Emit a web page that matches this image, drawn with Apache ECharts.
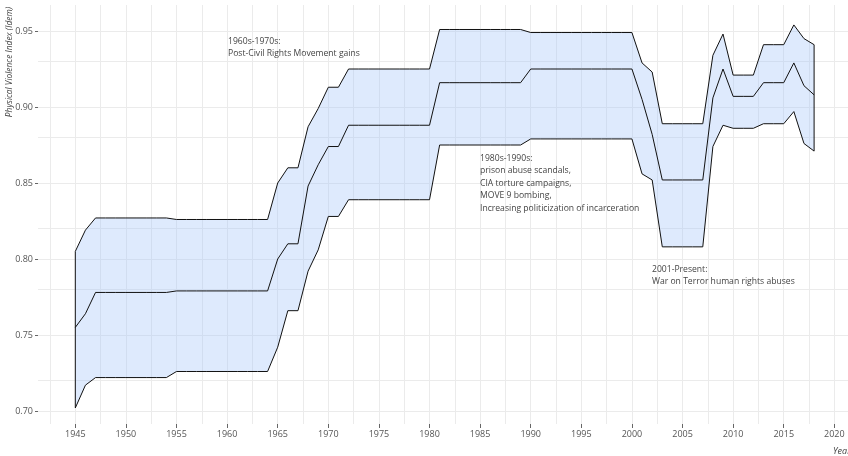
<!DOCTYPE html>
<html><head><meta charset="utf-8">
<script src="https://cdn.jsdelivr.net/npm/echarts@6/dist/echarts.min.js"></script>
<style>html,body{margin:0;padding:0;background:#fff}#c{width:848px;height:456px}</style>
</head><body><div id="c"></div>
<script>
const years = [1945,1946,1947,1948,1949,1950,1951,1952,1953,1954,1955,1956,1957,1958,1959,1960,1961,1962,1963,1964,
  1965,1966,1967,1968,1969,1970,1971,1972,1973,1974,1975,1976,1977,1978,1979,1980,1981,1982,1983,1984,1985,1986,1987,1988,1989,
  1990,1991,1992,1993,1994,1995,1996,1997,1998,1999,2000,2001,2002,2003,2004,2005,2006,2007,2008,2009,2010,2011,2012,2013,2014,2015,2016,2017,2018];
const upper = [0.805,0.819,0.827,0.827,0.827,0.827,0.827,0.827,0.827,0.827,0.826,0.826,0.826,0.826,0.826,0.826,0.826,0.826,0.826,0.826,
  0.850,0.860,0.860,0.887,0.899,0.913,0.913,0.925,0.925,0.925,0.925,0.925,0.925,0.925,0.925,0.925,0.951,0.951,0.951,0.951,0.951,0.951,0.951,0.951,0.951,
  0.949,0.949,0.949,0.949,0.949,0.949,0.949,0.949,0.949,0.949,0.949,0.929,0.923,0.889,0.889,0.889,0.889,0.889,0.934,0.948,0.921,0.921,0.921,0.941,0.941,0.941,0.954,0.945,0.941];
const middle = [0.755,0.764,0.778,0.778,0.778,0.778,0.778,0.778,0.778,0.778,0.779,0.779,0.779,0.779,0.779,0.779,0.779,0.779,0.779,0.779,
  0.800,0.810,0.810,0.848,0.862,0.874,0.874,0.888,0.888,0.888,0.888,0.888,0.888,0.888,0.888,0.888,0.916,0.916,0.916,0.916,0.916,0.916,0.916,0.916,0.916,
  0.925,0.925,0.925,0.925,0.925,0.925,0.925,0.925,0.925,0.925,0.925,0.905,0.882,0.852,0.852,0.852,0.852,0.852,0.906,0.925,0.907,0.907,0.907,0.916,0.916,0.916,0.929,0.914,0.908];
const lower = [0.702,0.717,0.722,0.722,0.722,0.722,0.722,0.722,0.722,0.722,0.726,0.726,0.726,0.726,0.726,0.726,0.726,0.726,0.726,0.726,
  0.742,0.766,0.766,0.792,0.806,0.828,0.828,0.839,0.839,0.839,0.839,0.839,0.839,0.839,0.839,0.839,0.875,0.875,0.875,0.875,0.875,0.875,0.875,0.875,0.875,
  0.879,0.879,0.879,0.879,0.879,0.879,0.879,0.879,0.879,0.879,0.879,0.856,0.852,0.808,0.808,0.808,0.808,0.808,0.874,0.888,0.886,0.886,0.886,0.889,0.889,0.889,0.897,0.876,0.871];
const xTickValues = [1945,1950,1955,1960,1965,1970,1975,1980,1985,1990,1995,2000,2005,2010,2015,2020];
const yTickValues = [0.70,0.75,0.80,0.85,0.90,0.95];
const xGridValues = [1942.5,1945,1947.5,1950,1952.5,1955,1957.5,1960,1962.5,1965,1967.5,1970,1972.5,1975,1977.5,1980,1982.5,1985,1987.5,1990,1992.5,1995,1997.5,2000,2002.5,2005,2007.5,2010,2012.5,2015,2017.5,2020];
const yGridValues = [0.70,0.725,0.75,0.775,0.80,0.825,0.85,0.875,0.90,0.925,0.95];
const annoTexts = [
  '1960s-1970s:\nPost-Civil Rights Movement gains',
  '1980s-1990s:\nprison abuse scandals,\nCIA torture campaigns,\nMOVE 9 bombing,\nIncreasing politicization of incarceration',
  '2001-Present:\nWar on Terror human rights abuses'
];
const yTitle = 'Physical Violence Index (Idem)';
const xTitle = 'Year';

const FONT = '"Open Sans", "Noto Sans", sans-serif';
const chart = echarts.init(document.getElementById('c'), null, {renderer: 'canvas'});

const bandData = years.map((y, i) => [y, lower[i], upper[i]]);
const midData = years.map((y, i) => [y, middle[i]]);

const gridLines = xGridValues.map(v => ({xAxis: v})).concat(yGridValues.map(v => ({yAxis: v})));

const option = {
  animation: false,
  backgroundColor: '#ffffff',
  grid: {left: 38, right: 0, top: 5, bottom: 32, containLabel: false},
  xAxis: {
    type: 'value', min: 1941.314, max: 2021.35,
    axisLine: {show: false},
    splitLine: {show: false},
    axisTick: {show: true, length: 4, customValues: xTickValues, lineStyle: {color: '#666', width: 1}},
    axisLabel: {customValues: xTickValues, color: '#555', fontSize: 9, fontFamily: FONT, margin: 6,
      formatter: v => String(Math.round(v))},
  },
  yAxis: {
    type: 'value', min: 0.69145, max: 0.96711,
    axisLine: {show: false},
    splitLine: {show: false},
    axisTick: {show: true, length: 3, customValues: yTickValues, lineStyle: {color: '#666', width: 1}},
    axisLabel: {customValues: yTickValues, color: '#555', fontSize: 9, fontFamily: FONT, margin: 5,
      formatter: v => v.toFixed(2)},
  },
  series: [
    {
      type: 'line', data: [], z: 0, silent: true,
      markLine: {silent: true, z: 0, symbol: ['none', 'none'], label: {show: false},
        lineStyle: {color: '#ebebeb', width: 1, type: 'solid'}, emphasis: {disabled: true},
        data: gridLines, animation: false}
    },
    {
      type: 'custom', z: 2, silent: true,
      data: bandData,
      encode: {x: 0, y: [1, 2]},
      renderItem: function (params, api) {
        if (params.dataIndex !== 0) return null;
        const pts = [];
        for (let i = 0; i < years.length; i++) pts.push(api.coord([years[i], upper[i]]));
        for (let i = years.length - 1; i >= 0; i--) pts.push(api.coord([years[i], lower[i]]));
        return {
          type: 'polygon',
          shape: {points: pts},
          style: {fill: 'rgba(160,196,248,0.35)', stroke: '#111', lineWidth: 1, lineJoin: 'miter'}
        };
      }
    },
    {
      type: 'line', z: 3, data: midData, symbol: 'none', silent: true,
      lineStyle: {color: '#111', width: 1}
    }
  ],
  graphic: [
    {type: 'text', left: 228, top: 35, silent: true, z: 100,
      style: {text: annoTexts[0], font: '8.6px ' + FONT, fill: '#444', lineHeight: 12.3}},
    {type: 'text', left: 480, top: 152, silent: true, z: 100,
      style: {text: annoTexts[1], font: '8.6px ' + FONT, fill: '#444', lineHeight: 12.5}},
    {type: 'text', left: 652, top: 263, silent: true, z: 100,
      style: {text: annoTexts[2], font: '8.6px ' + FONT, fill: '#444', lineHeight: 12.3}},
    {type: 'text', x: 10, y: 62, rotation: Math.PI / 2, silent: true, z: 100,
      style: {text: yTitle, font: 'italic 8.4px ' + FONT, fill: '#444', align: 'center', verticalAlign: 'middle'}},
    {type: 'text', x: 833, y: 451, silent: true, z: 100,
      style: {text: xTitle, font: 'italic 9px ' + FONT, fill: '#444', align: 'left', verticalAlign: 'middle'}}
  ]
};
chart.setOption(option);
</script>
</body></html>
